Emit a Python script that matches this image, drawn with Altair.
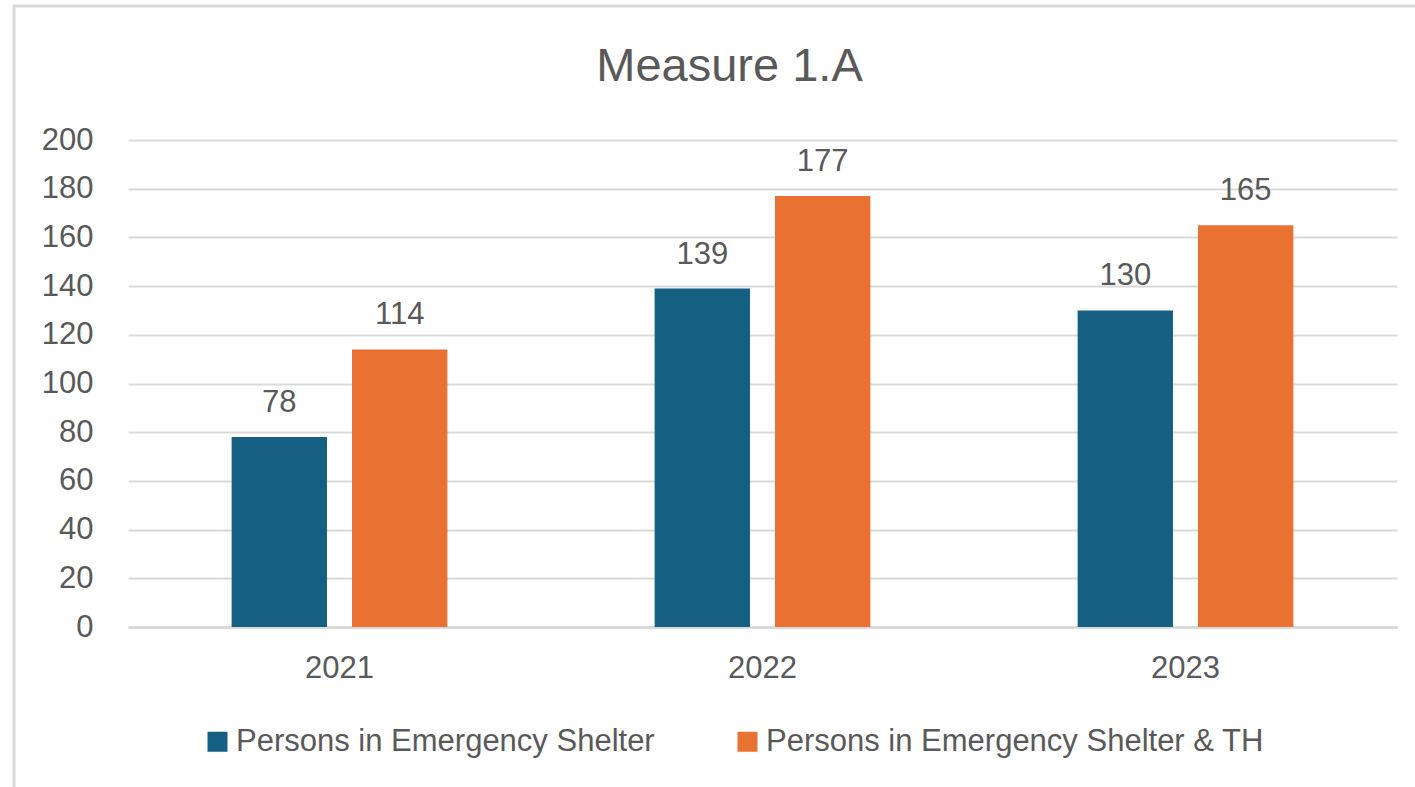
import altair as alt
import pandas as pd

years = ["2021", "2022", "2023"]
series = ["Persons in Emergency Shelter", "Persons in Emergency Shelter & TH"]
shelter = [78, 139, 130]
shelter_th = [114, 177, 165]
colors = ["#156082", "#E97132"]

rows = []
for i, y in enumerate(years):
    rows.append({"year": y, "series": series[0], "value": shelter[i]})
    rows.append({"year": y, "series": series[1], "value": shelter_th[i]})
df = pd.DataFrame(rows)

FONT = "Liberation Sans"
GRAY = "#595959"
W, H = 1269, 487

x_enc = alt.X("year:N", sort=years,
              scale=alt.Scale(paddingInner=0.49, paddingOuter=0.245),
              axis=alt.Axis(title=None, labelAngle=0, labelFontSize=31, labelColor=GRAY,
                            labelFont=FONT, ticks=False, tickSize=0, labelPadding=26,
                            domain=True, domainColor="#D9D9D9", domainWidth=3, grid=False))
xoff = alt.XOffset("series:N", sort=series,
                   scale=alt.Scale(paddingInner=0.208, paddingOuter=0))
y_enc = alt.Y("value:Q", scale=alt.Scale(domain=[0, 200]),
              axis=alt.Axis(title=None, values=list(range(0, 201, 20)), labelFontSize=31,
                            labelColor=GRAY, labelFont=FONT, ticks=False, tickSize=0,
                            labelPadding=35, domain=False, gridColor="#D9D9D9", gridWidth=2))

base = alt.Chart(df)

bars = base.mark_bar().encode(
    x=x_enc, xOffset=xoff, y=y_enc,
    color=alt.Color("series:N", sort=series,
                    scale=alt.Scale(domain=series, range=colors),
                    legend=alt.Legend(title=None, orient="none", legendX=74, legendY=586,
                                      direction="horizontal", symbolType="square",
                                      symbolSize=400, symbolStrokeWidth=0,
                                      labelFontSize=31, labelFont=FONT, labelColor=GRAY,
                                      labelOffset=3, columnPadding=77, labelLimit=800)),
)

labels = base.mark_text(baseline="alphabetic", dy=-25, fontSize=31, font=FONT, color=GRAY).encode(
    x=alt.X("year:N", sort=years), xOffset=alt.XOffset("series:N", sort=series),
    y="value:Q", text="value:Q",
)

border = alt.Chart(pd.DataFrame({"a": [0]})).mark_rect(
    fill=None, stroke="#D9D9D9", strokeWidth=3, clip=False
).encode(
    x=alt.value(-114), x2=alt.value(W + 80), y=alt.value(-134), y2=alt.value(H + 220)
)

chart = alt.layer(bars, labels, border).properties(
    width=W, height=H,
    background="white",
    title=alt.Title("Measure 1.A", fontSize=47, font=FONT, color=GRAY, fontWeight="normal",
                    anchor="middle", frame="group", baseline="alphabetic", offset=-123.5, dx=-33),
    autosize=alt.AutoSizeParams(type="none"),
    padding={"left": 128, "top": 140, "right": 18, "bottom": 160},
).configure_view(stroke=None)

chart.save("out.html", embed_options={"renderer": "svg", "actions": False})
